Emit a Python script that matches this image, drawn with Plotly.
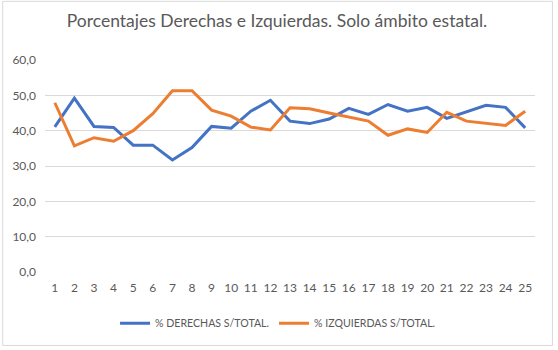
import plotly.graph_objects as go

categories = list(range(1, 26))
derechas = [41.1, 49.2, 41.2, 40.9, 35.9, 35.9, 31.7, 35.2, 41.2, 40.7, 45.5, 48.6,
            42.7, 42.0, 43.3, 46.3, 44.6, 47.4, 45.5, 46.6, 43.5, 45.4, 47.2, 46.6, 40.8]
izquierdas = [47.9, 35.7, 38.0, 37.0, 40.0, 44.8, 51.3, 51.3, 45.8, 44.1, 41.0, 40.2,
              46.5, 46.2, 45.0, 43.9, 42.7, 38.7, 40.5, 39.5, 45.2, 42.7, 42.1, 41.5, 45.5]
y_ticks = [0, 10, 20, 30, 40, 50, 60]

FONT = "Lato"
GREY = "#595959"

fig = go.Figure()
fig.add_trace(go.Scatter(x=categories, y=derechas, mode="lines", name="% DERECHAS S/TOTAL.",
                         line=dict(color="#4472C4", width=3)))
fig.add_trace(go.Scatter(x=categories, y=izquierdas, mode="lines", name="% IZQUIERDAS S/TOTAL.",
                         line=dict(color="#ED7D31", width=3)))

L, R, T, B = 43, 23, 60, 75
W, H = 558, 350
pw, ph = W - L - R, H - T - B

fig.update_layout(
    width=W, height=H,
    margin=dict(l=L, r=R, t=T, b=B),
    paper_bgcolor="white", plot_bgcolor="white",
    font=dict(family=FONT, color=GREY, size=12),
    title=dict(text="Porcentajes Derechas e Izquierdas. Solo ámbito estatal.",
               x=277 / W, xanchor="center", xref="container", y=1 - 21 / H, yanchor="middle",
               font=dict(family=FONT, size=17.5, color=GREY)),
    separators=",.",
    showlegend=True,
    legend=dict(orientation="h", x=(277 - L) / pw, xanchor="center", xref="paper",
                y=-(327 - (H - B)) / ph, yanchor="middle",
                font=dict(family=FONT, size=10.6, color=GREY),
                itemwidth=30, tracegroupgap=0),
    xaxis=dict(range=[0.5, 25.5], tickmode="array", tickvals=categories,
               ticktext=[str(c) for c in categories], showgrid=False, zeroline=False,
               showline=False, ticks="", ticklabelstandoff=7,
               tickfont=dict(size=12, color=GREY)),
    yaxis=dict(range=[0, 60], tickmode="array", tickvals=y_ticks, tickformat=".1f",
               showgrid=True, gridcolor="#d9d9d9", gridwidth=1, zeroline=False,
               showline=False, ticks="", ticklabelstandoff=8,
               tickfont=dict(size=12, color=GREY)),
)

fig.add_shape(type="rect", xref="paper", yref="paper",
              x0=(0.5 - L) / pw, x1=(552.5 - L) / pw,
              y0=((H - B) - 349.5) / ph, y1=((H - B) - 0.5) / ph,
              line=dict(color="#d9d9d9", width=1), fillcolor="rgba(0,0,0,0)", layer="below")

fig.write_html("out.html")
